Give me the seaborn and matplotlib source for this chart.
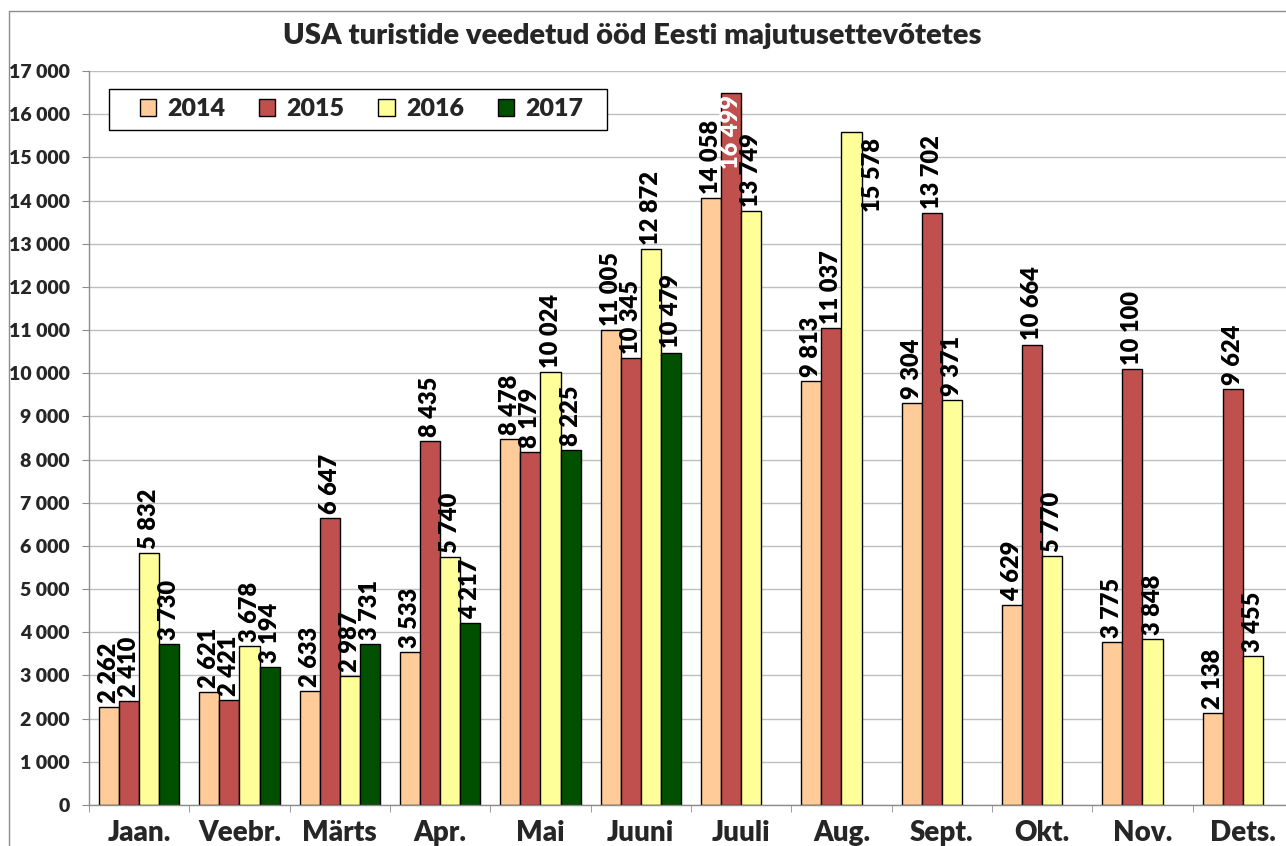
import numpy as np
import pandas as pd
import matplotlib.pyplot as plt
import seaborn as sns
from matplotlib.patches import Patch, Rectangle

# Andmed
kuud = ['Jaan.', 'Veebr.', 'Märts', 'Apr.', 'Mai', 'Juuni', 'Juuli', 'Aug.',
        'Sept.', 'Okt.', 'Nov.', 'Dets.']
aastad = ['2014', '2015', '2016', '2017']
v2014 = [2262, 2621, 2633, 3533, 8478, 11005, 14058, 9813, 9304, 4629, 3775, 2138]
v2015 = [2410, 2421, 6647, 8435, 8179, 10345, 16499, 11037, 13702, 10664, 10100, 9624]
v2016 = [5832, 3678, 2987, 5740, 10024, 12872, 13749, 15578, 9371, 5770, 3848, 3455]
v2017 = [3730, 3194, 3731, 4217, 8225, 10479, np.nan, np.nan, np.nan, np.nan, np.nan, np.nan]
varvid = ['#FFCC99', '#C0504D', '#FFFF99', '#005000']

read = []
for aasta, vals in zip(aastad, [v2014, v2015, v2016, v2017]):
    for kuu, v in zip(kuud, vals):
        read.append({'Kuu': kuu, 'Aasta': aasta, 'Ööd': v})
df = pd.DataFrame(read)

W = 'heavy'
sns.set_style('white')
plt.rcParams['font.family'] = ['Lato', 'DejaVu Sans']
plt.rcParams['font.weight'] = W

fig = plt.figure(figsize=(12.86, 8.46), dpi=100)
ax = fig.add_axes([89 / 1286, 41 / 846, 1204 / 1286, 734 / 846])

sns.barplot(data=df, x='Kuu', y='Ööd', hue='Aasta', order=kuud, hue_order=aastad,
            palette=varvid, saturation=1, width=0.8, edgecolor='black',
            linewidth=1, legend=False, ax=ax)

ax.set_ylim(0, 17000)
ax.set_xlim(-0.5, 11.5)
ax.set_yticks(range(0, 17001, 1000))
ax.set_yticklabels([f'{t:,}'.replace(',', ' ') for t in range(0, 17001, 1000)],
                   fontsize=14, fontweight=W)
ax.set_xticks(range(12))
ax.set_xticklabels(kuud, fontsize=20, fontweight=W)
ax.set_xticks(np.arange(-0.5, 12, 1), minor=True)
ax.tick_params(axis='x', which='major', length=0, pad=11)
ax.tick_params(axis='x', which='minor', length=5, color='#8c8c8c', direction='out', bottom=True)
ax.tick_params(axis='y', length=5, color='#8c8c8c', direction='out', left=True, pad=9)
ax.set_xlabel('')
ax.set_ylabel('')
ax.yaxis.grid(True, color='#bebebe', linewidth=1)
ax.set_axisbelow(True)
for s in ['top', 'right']:
    ax.spines[s].set_visible(False)
for s in ['left', 'bottom']:
    ax.spines[s].set_color('#8c8c8c')
    ax.spines[s].set_linewidth(1)

# Väärtuste sildid
for cont in ax.containers:
    for bar in cont:
        h = bar.get_height()
        if np.isnan(h):
            continue
        x = bar.get_x() + bar.get_width() / 2
        txt = f'{int(h):,}'.replace(',', ' ')
        if h > 16000:
            # ei mahu üles -> tulba sisse
            ax.annotate(txt, (x, h), xytext=(0, -2), textcoords='offset points',
                        rotation=90, ha='center', va='top', fontsize=17,
                        fontweight=W, color='white')
        elif h > 15000:
            # tulba kõrvale
            ax.annotate(txt, (x + bar.get_width(), h), xytext=(1, -4),
                        textcoords='offset points', rotation=90, ha='center',
                        va='top', fontsize=17, fontweight=W, color='black')
        else:
            ax.annotate(txt, (x, h), xytext=(0, 3), textcoords='offset points',
                        rotation=90, ha='center', va='bottom', fontsize=17,
                        fontweight=W, color='black')

# Legend
ax.add_patch(Rectangle((20 / 1204, 675 / 734), 498 / 1204, 41 / 734,
                       transform=ax.transAxes, facecolor='white', edgecolor='black',
                       linewidth=1, zorder=4, clip_on=False))
kasitlejad = [Patch(facecolor=c, edgecolor='black', linewidth=1) for c in varvid]
leg = ax.legend(kasitlejad, aastad, ncol=4, loc='center', frameon=False,
                bbox_to_anchor=(272.5 / 1204, 695.5 / 734),
                prop={'weight': W, 'size': 18}, handlelength=0.65,
                handleheight=0.65, handletextpad=0.45, columnspacing=1.35)
leg.set_zorder(5)

fig.text(0.492, 1 - 36 / 846, 'USA turistide veedetud ööd Eesti majutusettevõtetes',
         ha='center', va='center', fontsize=21, fontweight=W)

fig.patches.append(Rectangle((9 / 1286, -0.05), 1.1, (835 / 846) + 0.05,
                             transform=fig.transFigure, fill=False,
                             edgecolor='#8c8c8c', linewidth=1))

plt.savefig('out.png', dpi=100)
